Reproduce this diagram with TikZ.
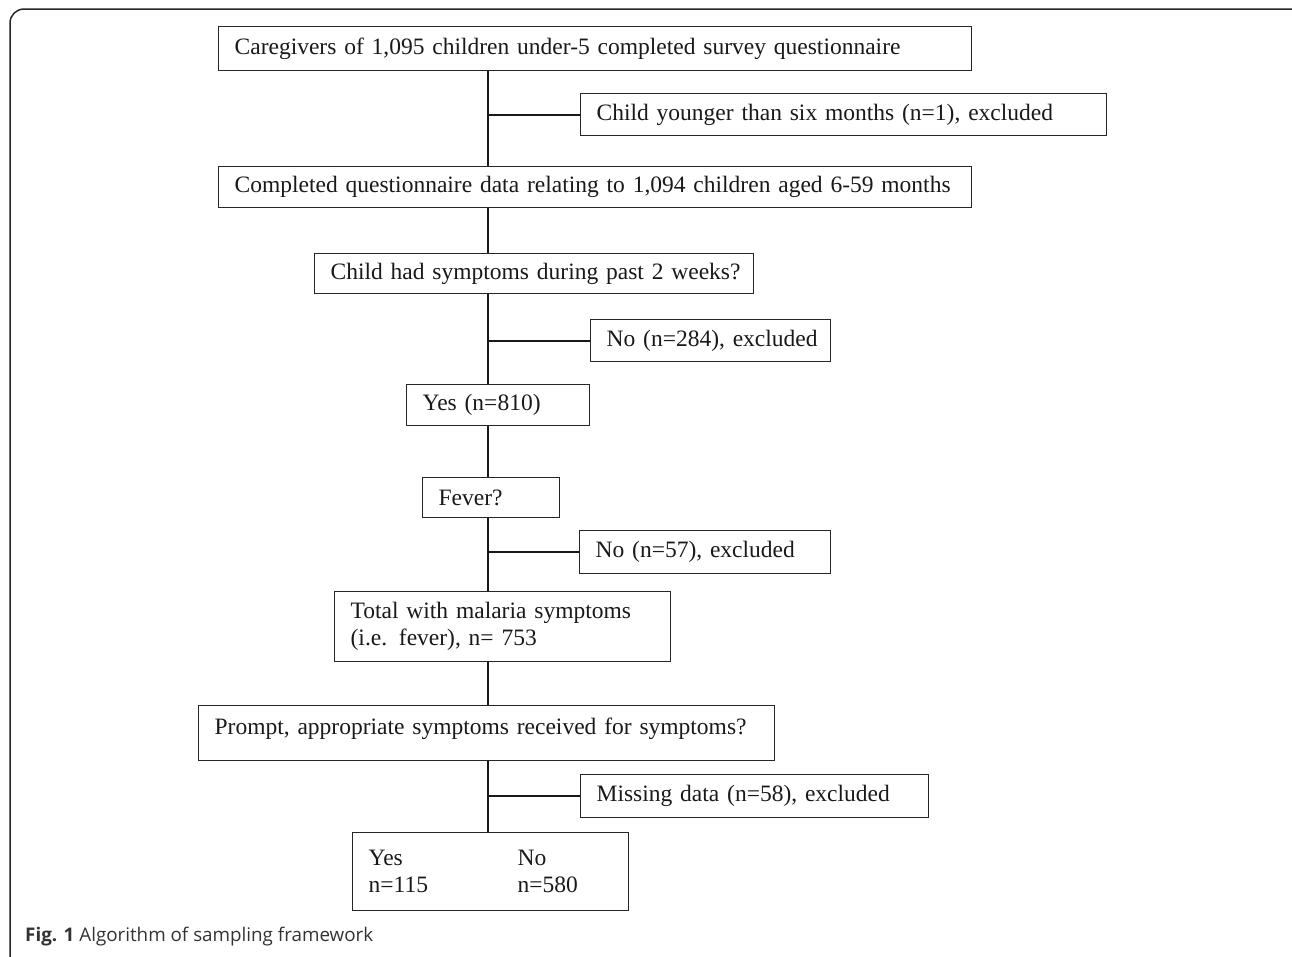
\documentclass[tikz,border=0pt]{standalone}
\usepackage{fontspec}
\setmainfont{Liberation Serif}
\newfontfamily\capfont{Open Sans}
\begin{document}
\begin{tikzpicture}[x=1pt,y=-1pt,
  box/.style={draw=black!85,line width=1.3pt,rectangle,anchor=north west,inner xsep=16pt,inner ysep=0pt,align=left,font=\fontsize{23.5}{27}\selectfont,text=black!90},
  link/.style={draw=black!90,line width=2.2pt},
  branch/.style={draw=black!90,line width=1.8pt}]
\useasboundingbox (0,0) rectangle (1292,956);
\draw[black!85,line width=1.5pt,rounded corners=14pt] (10,9) rectangle (1320,990);
\newcommand{\bx}[6]{\node[box,minimum width={#4-#2},minimum height={#5-#3},text width={#4-#2-32}] (#1) at (#2,#3) {#6};}
\bx{b1}{218}{26}{971}{70}{\mbox{Caregivers of 1,095 children under-5 completed survey questionnaire}}
\bx{b2}{580}{93}{1106}{135}{\mbox{Child younger than six months (n=1), excluded}}
\bx{b3}{218}{166}{971}{207}{\mbox{Completed questionnaire data relating to 1,094 children aged 6-59 months}}
\bx{b4}{314}{253}{753}{293}{\mbox{Child had symptoms during past 2 weeks?}}
\bx{b5}{590}{319}{830}{361}{\mbox{No (n=284), excluded}}
\bx{b6}{406}{384}{589}{425}{\mbox{Yes (n=810)}}
\bx{b7}{422}{477}{559}{517}{\mbox{Fever?}}
\bx{b8}{579}{530}{830}{573}{\mbox{No (n=57), excluded}}
\bx{b9}{334}{591}{670}{661}{\mbox{Total with malaria symptoms}\\\mbox{(i.e. fever), n= 753}}
\node[box,minimum width=576,minimum height=55,text width=544,anchor=north west,text depth=14pt] (b10) at (198,705) {\mbox{Prompt, appropriate symptoms received for symptoms?}};
\bx{b11}{580}{774}{928}{817}{\mbox{Missing data (n=58), excluded}}
\bx{b12}{352}{832}{628}{910}{\makebox[149pt][l]{Yes}No\\\makebox[149pt][l]{n=115}n=580}
\coordinate (s) at (488,0);
\draw[link] (b1.south -| s) -- (b3.north -| s);
\draw[branch] (s |- b2.west) -- (b2.west);
\draw[link] (b3.south -| s) -- (b4.north -| s);
\draw[link] (b4.south -| s) -- (b6.north -| s);
\draw[branch] (s |- b5.west) -- (b5.west);
\draw[link] (b6.south -| s) -- (b7.north -| s);
\draw[link] (b7.south -| s) -- (b9.north -| s);
\draw[branch] (s |- b8.west) -- (b8.west);
\draw[link] (b9.south -| s) -- (b10.north -| s);
\draw[link] (b10.south -| s) -- (b12.north -| s);
\draw[branch] (s |- b11.west) -- (b11.west);
\node[anchor=west,inner sep=0pt,font=\capfont\fontsize{18.8}{22}\selectfont,text=black!80] (cap) at (25,937) {\textbf{Fig. 1} Algorithm of sampling framework};
\end{tikzpicture}
\end{document}
